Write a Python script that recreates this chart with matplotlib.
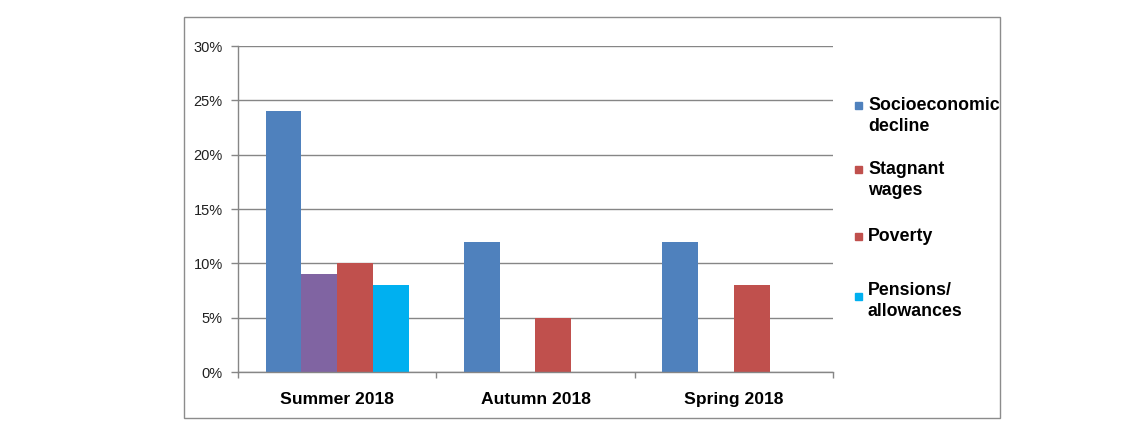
import matplotlib
matplotlib.use("Agg")
import matplotlib.pyplot as plt
from matplotlib.patches import Rectangle
import numpy as np

plt.rcParams['font.family'] = ['Liberation Sans', 'DejaVu Sans']

categories = ["Summer 2018", "Autumn 2018", "Spring 2018"]
series_names = ["Socioeconomic\ndecline", "Stagnant\nwages", "Poverty", "Pensions/\nallowances"]
socioeconomic = [24, 12, 12]
stagnant = [9, 0, 0]
poverty = [10, 5, 8]
pensions = [8, 0, 0]
yticks = [0, 5, 10, 15, 20, 25, 30]

bar_colors = ["#4F81BD", "#8064A2", "#C0504D", "#00B0F0"]
legend_colors = ["#4F81BD", "#C0504D", "#C0504D", "#00B0F0"]

fig = plt.figure(figsize=(11.4, 4.23), dpi=100)
W, H = 1140, 423

# outer chart frame
fig.patches.append(Rectangle((184 / W, 1 - 418 / H), (1000 - 184) / W, (418 - 17) / H,
                             transform=fig.transFigure, fill=False,
                             edgecolor="#8C8C8C", linewidth=1.0))

ax = fig.add_axes([238 / W, 1 - 372 / H, (833 - 238) / W, (372 - 46) / H])

x = np.arange(len(categories))
bw = 0.18
series = [socioeconomic, stagnant, poverty, pensions]
for i, (vals, col) in enumerate(zip(series, bar_colors)):
    ax.bar(x + (i - 1.5) * bw, vals, width=bw, color=col, zorder=2)

ax.set_xlim(-0.5, len(categories) - 0.5)
ax.set_ylim(0, 30)
ax.set_yticks(yticks)
ax.set_yticklabels([f"{v}%" for v in yticks], fontsize=10.5, color="#202020")
ax.yaxis.grid(True, color="#868686", linewidth=1.0, zorder=0)
ax.set_axisbelow(True)

ax.set_xticks(x)
ax.set_xticklabels(categories, fontsize=12.6, fontweight="bold")
ax.set_xticks(np.arange(len(categories) + 1) - 0.5, minor=True)
ax.tick_params(axis="x", which="major", length=0, pad=14.5)
ax.tick_params(axis="x", which="minor", length=4, color="#868686", width=1.0)
ax.tick_params(axis="y", length=5, color="#868686", width=1.0, pad=6)

for s in ["top", "right"]:
    ax.spines[s].set_visible(False)
for s in ["left", "bottom"]:
    ax.spines[s].set_color("#868686")
    ax.spines[s].set_linewidth(1.0)

# legend (manual placement to mimic original layout)
leg_y = [105, 169, 236, 296]
text_y = [116, 180, 236, 301]
for name, col, my, ty in zip(series_names, legend_colors, leg_y, text_y):
    fig.patches.append(Rectangle((855 / W, 1 - (my + 4) / H), 7 / W, 7 / H,
                                 transform=fig.transFigure, color=col))
    fig.text(868 / W, 1 - ty / H, name, fontsize=12.8, fontweight="bold",
             va="center", ha="left", linespacing=1.38)

fig.savefig("out.png", dpi=100)
